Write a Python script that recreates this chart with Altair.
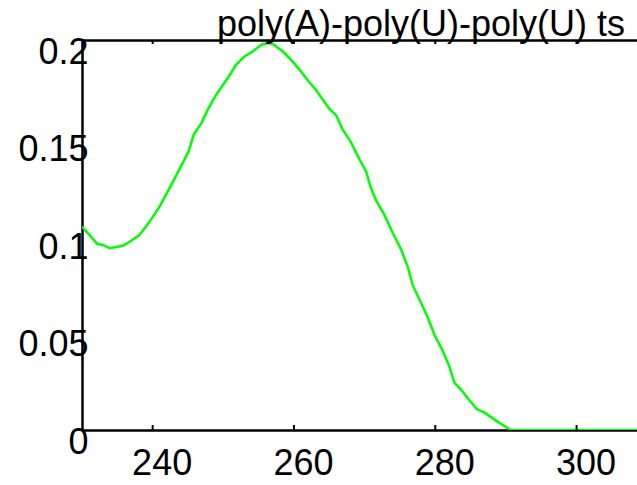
import altair as alt
import pandas as pd

# Wavelength (nm) and absorbance values
wavelength = [230, 232.2, 233.0, 233.9, 235.8, 236.7, 238.1, 239.6, 241.0, 242.9,
              244.0, 245.1, 245.8, 246.9, 247.8, 249.0, 250.9, 251.8, 253.0, 254.2,
              255.4, 256.3, 257.0, 258.4, 259.8, 260.8, 262.0, 263.1, 264.1, 265.0,
              266.0, 266.9, 268.0, 269.3, 270.2, 270.9, 271.6, 272.8, 274.0, 275.2,
              276.1, 276.8, 277.8, 278.9, 279.9, 281.1, 282.0, 282.7, 283.7, 284.8,
              285.9, 287.0, 288.8, 290.7, 300, 310]
absorbance = [0.1043, 0.0954, 0.0949, 0.0932, 0.0945, 0.0964, 0.0998, 0.107, 0.1147, 0.1275,
              0.1352, 0.1429, 0.1514, 0.1574, 0.1643, 0.172, 0.1819, 0.1873, 0.1916, 0.1942,
              0.1976, 0.1985, 0.198, 0.1942, 0.189, 0.1847, 0.1791, 0.1745, 0.1694, 0.1648,
              0.1612, 0.154, 0.148, 0.1386, 0.1327, 0.1241, 0.1179, 0.1103, 0.1009, 0.0923,
              0.0837, 0.0744, 0.0667, 0.0581, 0.0487, 0.0402, 0.0325, 0.0243, 0.0205, 0.0154,
              0.0106, 0.0089, 0.0043, 0.0, 0.0, 0.0]
x_ticks = [240, 260, 280, 300]
y_ticks = [0, 0.05, 0.1, 0.15, 0.2]
title_text = "poly(A)-poly(U)-poly(U) ts"

df = pd.DataFrame({"x": wavelength, "y": absorbance})
ticks_df = pd.DataFrame({"x": x_ticks})
title_df = pd.DataFrame({"label": [title_text]})

FONT = "Liberation Sans"
xscale = alt.Scale(domain=[230, 308.55], nice=False, zero=False)
yscale = alt.Scale(domain=[0, 0.2], nice=False)

yaxis = alt.Axis(orient="left", values=y_ticks, format="~g", title=None, grid=False,
                 ticks=False, domainColor="black", domainWidth=2.5,
                 labelFont=FONT, labelFontSize=36, labelColor="black",
                 labelOffset=12, labelPadding=-6, labelOverlap=False)
xaxis = alt.Axis(orient="bottom", values=x_ticks, title=None, grid=False,
                 ticks=False, domainColor="black", domainWidth=2.5,
                 labelFont=FONT, labelFontSize=36, labelColor="black",
                 labelOffset=9, labelPadding=16, labelFlush=False, labelOverlap=False)

line = alt.Chart(df).mark_line(color="#00ff00", strokeWidth=2.5, clip=True).encode(
    x=alt.X("x:Q", scale=xscale, axis=xaxis),
    y=alt.Y("y:Q", scale=yscale, axis=yaxis),
)
top_frame = alt.Chart(title_df).mark_rule(color="black", strokeWidth=2.5).encode(
    x=alt.value(0), x2=alt.value(555), y=alt.value(0.5),
)
bottom_ticks = alt.Chart(ticks_df).mark_rule(color="black", strokeWidth=2).encode(
    x=alt.X("x:Q", scale=xscale, axis=xaxis),
    y=alt.value(385), y2=alt.value(390),
)
top_ticks = alt.Chart(ticks_df).mark_rule(color="black", strokeWidth=2).encode(
    x=alt.X("x:Q", scale=xscale, axis=xaxis),
    y=alt.value(0), y2=alt.value(4),
)
title = alt.Chart(title_df).mark_text(
    font=FONT, fontSize=36, color="black", align="right", baseline="alphabetic"
).encode(text="label:N", x=alt.value(543), y=alt.value(-4.5))

chart = alt.layer(line, top_frame, bottom_ticks, top_ticks, title).properties(
    width=555, height=390,
    autosize=alt.AutoSizeParams(type="none"),
    padding={"left": 82, "top": 40, "right": 0, "bottom": 55},
    background="white",
).configure_view(stroke=None)

chart.save("out.html", embed_options={"renderer": "svg", "actions": False})
